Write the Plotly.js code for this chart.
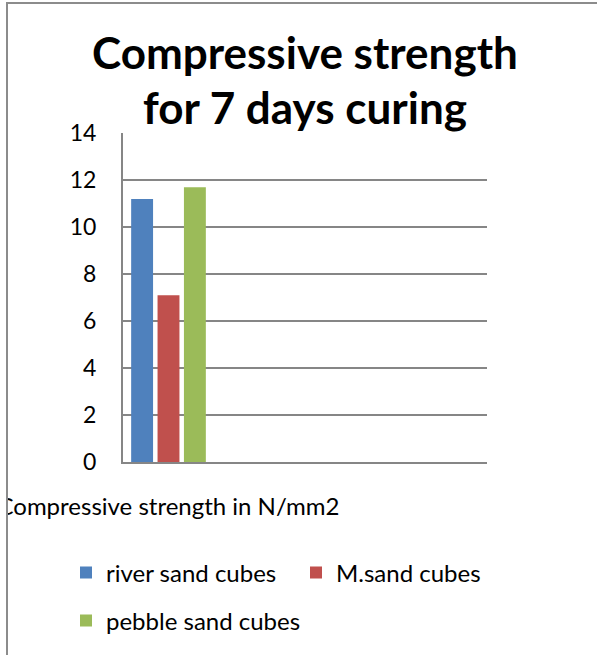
<!DOCTYPE html>
<html><head><meta charset="utf-8">
<script src="https://cdn.plot.ly/plotly-3.0.1.min.js"></script>
<style>html,body{margin:0;padding:0;background:#fff}</style>
</head><body><div id="chart" style="width:597px;height:655px"></div>
<script>
const categories = ["Compressive strength in N/mm2", " ", "  ", "   "];
const seriesNames = ["river sand cubes", "M.sand cubes", "pebble sand cubes"];
const riverSand = [11.2, null, null, null];
const mSand = [7.1, null, null, null];
const pebbleSand = [11.7, null, null, null];
const yTicks = [0, 2, 4, 6, 8, 10, 12, 14];
const titleLines = ["Compressive strength", "for 7 days curing"];

const W = 597, H = 655, ML = 123, MR = 110, MT = 133, MB = 193;
const PW = W - ML - MR, PH = H - MT - MB;
const px = v => (v - ML) / PW;
const py = v => (H - MB - v) / PH;
const FONT = "Lato, 'Open Sans', sans-serif";
const colors = ["#4F81BD", "#C0504D", "#9BBB59"];
const legendIds = ["legend", "legend2", "legend3"];
const legendPos = [[66, 573], [296, 573], [66, 621]];

const data = [riverSand, mSand, pebbleSand].map((vals, i) => ({
  type: "bar", x: categories, y: vals, name: seriesNames[i],
  marker: {color: colors[i]}, legend: legendIds[i],
  hoverinfo: "skip"
}));

const legendStyle = (pos) => ({
  orientation: "h", x: px(pos[0]), y: py(pos[1]), xanchor: "left", yanchor: "middle",
  font: {size: 24, family: FONT, color: "#000"}, bgcolor: "rgba(0,0,0,0)", borderwidth: 0
});

const layout = {
  width: W, height: H,
  margin: {l: ML, r: MR, t: MT, b: MB, pad: 0},
  paper_bgcolor: "#fff", plot_bgcolor: "#fff",
  barmode: "group", bargap: 0.13, bargroupgap: 0.17,
  font: {family: FONT, color: "#000", size: 22},
  xaxis: {
    type: "category", categoryorder: "array", categoryarray: categories,
    showline: true, linecolor: "#868686", linewidth: 2, tickangle: 0,
    ticks: "", showgrid: false, tickfont: {size: 24, family: FONT, color: "#000"},
    ticklabelstandoff: 22, fixedrange: true
  },
  yaxis: {
    range: [0, 14.01], tickvals: yTicks, ticktext: yTicks.map(String),
    showline: true, linecolor: "#868686", linewidth: 2,
    showgrid: true, gridcolor: "#868686", gridwidth: 2, zeroline: false,
    ticks: "", tickfont: {size: 23, family: FONT, color: "#000"}, ticklabelstandoff: 20,
    fixedrange: true
  },
  showlegend: true,
  legend: legendStyle(legendPos[0]),
  legend2: legendStyle(legendPos[1]),
  legend3: legendStyle(legendPos[2]),
  annotations: [
    {text: "<b>" + titleLines[0] + "</b>", xref: "paper", yref: "paper", x: px(305), y: py(52),
     xanchor: "center", yanchor: "middle", showarrow: false, font: {size: 44, family: FONT, color: "#000"}},
    {text: "<b>" + titleLines[1] + "</b>", xref: "paper", yref: "paper", x: px(305), y: py(107),
     xanchor: "center", yanchor: "middle", showarrow: false, font: {size: 44, family: FONT, color: "#000"}}
  ],
  shapes: [
    {type: "rect", xref: "paper", yref: "paper", x0: px(-40), x1: px(7), y0: py(700), y1: py(-20),
     fillcolor: "#fff", line: {width: 0}, layer: "above"},
    {type: "rect", xref: "paper", yref: "paper", x0: px(7), x1: px(640), y0: py(700), y1: py(3),
     fillcolor: "rgba(0,0,0,0)", line: {color: "#8c8c8c", width: 2}, layer: "above"}
  ]
};
Plotly.newPlot("chart", data, layout, {displayModeBar: false, staticPlot: true});
</script></body></html>
